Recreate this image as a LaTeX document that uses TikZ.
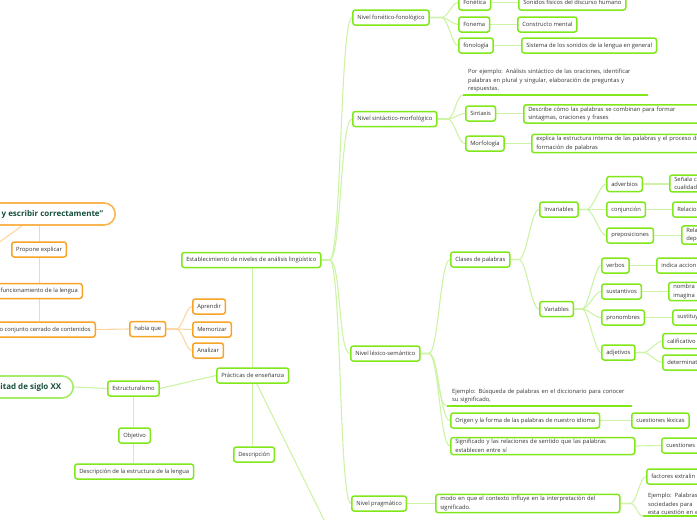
\documentclass[tikz,border=0pt]{standalone}
\usepackage{fontspec}
\setmainfont{Open Sans}
\definecolor{gB}{HTML}{80E81A}
\definecolor{gL}{HTML}{CDF3A6}
\definecolor{gR}{HTML}{A6EC68}
\definecolor{oB}{HTML}{F7A325}
\definecolor{oL}{HTML}{FCD6A2}
\definecolor{oR}{HTML}{F9B552}
\definecolor{txt}{HTML}{333333}
\definecolor{rootT}{HTML}{17503A}
\pgfdeclarelayer{bg}
\pgfsetlayers{bg,main}
\tikzset{
  base/.style={rounded corners=2.5pt, line width=1.5pt, fill=white, font=\fontsize{5.8}{8.5}\selectfont, text=txt, inner xsep=4.5pt, inner ysep=2pt, minimum height=15pt, anchor=west},
  gbox/.style={base, draw=gB},
  obox/.style={base, draw=oB},
  wide/.style={text width=175pt, align=left},
  cut/.style={text width=45pt, align=left},
  rootbox/.style={rounded corners=11pt, line width=1.6pt, fill=white, font=\fontsize{8}{9.5}\selectfont\bfseries, text=rootT, minimum height=22pt, inner xsep=12pt, anchor=east},
  exnode/.style={font=\fontsize{5.8}{8.5}\selectfont, text=txt, inner xsep=5pt, inner ysep=2.5pt, text width=175pt, align=left, anchor=south west},
  gl/.style={draw=gL, line width=1.1pt},
  ol/.style={draw=oL, line width=1.1pt},
  uline/.style={draw=gB, line width=1.4pt},
}
\begin{document}
\begin{tikzpicture}[x=1pt,y=-1pt]
\useasboundingbox (0,0) rectangle (697,520);

% ---------- orange part ----------
\node[rootbox, draw=oR] (root1) at (116,214) {y escribir correctamente”};
\node[obox] (P1) at (11,249.5) {Propone explicar};
\node[obox, anchor=east] (P2) at (83,291) {funcionamiento de la lengua};
\node[obox, anchor=east] (P3) at (96,329.5) {o conjunto cerrado de contenidos};
\node[obox] (habia) at (129,329) {había que};
\node[obox] (apr) at (192,306.5) {Aprendir};
\node[obox] (mem) at (192,329.5) {Memorizar};
\node[obox] (ana) at (192,350.5) {Analizar};
\coordinate (rA) at (23,225);
\coordinate (offA) at (-10,249);

% ---------- green left part ----------
\node[rootbox, draw=gR] (root2) at (74,387) {itad de siglo XX};
\node[gbox] (estr) at (107,388.5) {Estructuralismo};
\node[gbox] (obj) at (118,435.5) {Objetivo};
\node[gbox] (desc1) at (74,471.5) {Descripción de la estructura de la lengua};
\node[gbox] (prac) at (216,375.5) {Prácticas de enseñanza};
\node[gbox] (estab) at (181,260) {Establecimiento de niveles de análisis lingüístico};
\node[gbox] (descr) at (233,454.5) {Descripción};
\coordinate (offB) at (330,532);

% ---------- nivel fonetico ----------
\node[gbox] (nfon) at (352,17.5) {Nivel fonético-fonológico};
\node[gbox] (fonet) at (458,2.5) {Fonética};
\node[gbox] (sfis) at (518,2.5) {Sonidos físicos del discurso humano};
\node[gbox] (fonema) at (458,24.5) {Fonema};
\node[gbox] (cmen) at (517,24.5) {Constructo mental};
\node[gbox] (fonol) at (458,45.5) {fonología};
\node[gbox] (sist) at (521,45.5) {Sistema de los sonidos de la lengua en general};

% ---------- nivel sintactico ----------
\node[gbox] (nsin) at (352,119) {Nivel sintáctico-morfológico};
\node[exnode] (ex1) at (463,95) {Por ejemplo: Análisis sintáctico de las oraciones, identificar\\palabras en plural y singular, elaboración de preguntas y\\respuestas.};
\node[gbox] (sint) at (465,113.5) {Sintaxis};
\node[gbox, wide] (desc2) at (523,114) {Describe cómo las palabras se combinan para formar\\sintagmas, oraciones y frases};
\node[gbox] (morf) at (465,143.5) {Morfología};
\node[gbox, wide, text width=200pt] (expl) at (531,143.5) {explica la estructura interna de las palabras y el proceso de\\formación de palabras};

% ---------- nivel lexico ----------
\node[gbox] (nlex) at (350,353.5) {Nivel léxico-semántico};
\node[gbox] (clas) at (450,259.5) {Clases de palabras};
\node[gbox] (inv) at (539,209.5) {Invariables};
\node[gbox] (var) at (539,309) {Variables};
\node[gbox] (adv) at (606,184) {adverbios};
\node[gbox, cut] (senala) at (669,183.5) {Señala c\\cualidad};
\node[gbox] (conj) at (606,209.5) {conjunción};
\node[gbox, cut] (relac) at (672,209.5) {Relacio};
\node[gbox] (prep) at (606,235.5) {preposiciones};
\node[gbox, cut] (rela) at (681,235) {Rela\\depe};
\node[gbox] (verb) at (601,265.5) {verbos};
\node[gbox, cut] (indica) at (656,265.5) {indica accion};
\node[gbox] (sust) at (601,291.5) {sustantivos};
\node[gbox, cut] (nombra) at (668,291.5) {nombra\\imagina};
\node[gbox] (pron) at (601,317.5) {pronombres};
\node[gbox, cut] (sustit) at (672,317.5) {sustituy};
\node[gbox] (adj) at (601,352.5) {adjetivos};
\node[gbox, cut] (calif) at (662,341) {calificativo};
\node[gbox, cut] (determ) at (662,362.5) {determinat};
\node[exnode] (ex2) at (447,406) {Ejemplo: Búsqueda de palabras en el diccionario para conocer\\su significado,};
\node[gbox] (orig) at (450,420.5) {Origen y la forma de las palabras de nuestro idioma};
\node[gbox] (cuesl) at (631,420.5) {cuestiones léxicas};
\node[gbox, wide] (signif) at (450,446) {Significado y las relaciones de sentido que las palabras\\establecen entre sí};
\node[gbox, cut] (cuess) at (661,445.5) {cuestiones};

% ---------- nivel pragmatico ----------
\node[gbox] (nprag) at (351,503.5) {Nivel pragmático};
\node[gbox, wide] (modo) at (435,503.5) {modo en que el contexto influye en la interpretación del\\significado.};
\node[gbox, cut] (fact) at (646,476.5) {factores extralin};
\node[exnode, text width=60pt, anchor=north west, inner ysep=1pt] (ex3) at (643,492) {Ejemplo: Palabras\\sociedades para\\esta cuestión en e};

\begin{pgfonlayer}{bg}
% orange connectors
\draw[ol] (root1.south -| P1.north) -- (P1.north);
\draw[ol] (rA) -- (offA);
\draw[ol] (P1.south) -- (P1.south |- P2.north);
\draw[ol] (P1.south |- P2.south) -- (P1.south |- P3.north);
\draw[ol] (P3.east) -- (habia.west);
\foreach \c in {apr,mem,ana}
  \draw[ol] (habia.east) -- ++(10,0) .. controls +(6,0) and +(-6,0) .. (\c.west);

% green left connectors
\draw[gl] (root2.east) -- (estr.west);
\draw[gl] (estr.south) -- (estr.south |- obj.north);
\draw[gl] (estr.south |- obj.south) -- (estr.south |- desc1.north);
\draw[gl] (estr.east) -- (prac.west);
\draw[gl] (prac.north) -- (prac.north |- estab.south);
\draw[gl] (prac.south) -- (prac.south |- descr.north);
\draw[gl] ([xshift=4pt]prac.south) -- (offB);

% trunk
\foreach \c in {nfon,nsin,nlex,nprag}
  \draw[gl] (estab.east) -- ++(8,0) .. controls +(12,0) and +(-12,0) .. (\c.west);

% fonetico
\foreach \c in {fonet,fonema,fonol}
  \draw[gl] (nfon.east) -- ++(12,0) .. controls +(6,0) and +(-6,0) .. (\c.west);
\draw[gl] (fonet.east) -- (sfis.west);
\draw[gl] (fonema.east) -- (cmen.west);
\draw[gl] (fonol.east) -- (sist.west);

% sintactico
\draw[gl] (nsin.east) -- ++(10,0) .. controls +(7,0) and +(-7,0) .. (ex1.south west);
\foreach \c in {sint,morf}
  \draw[gl] (nsin.east) -- ++(10,0) .. controls +(7,0) and +(-7,0) .. (\c.west);
\draw[gl] (sint.east) -- (sint.east -| desc2.west);
\draw[gl] (morf.east) -- (expl.west);

% lexico
\draw[gl] (nlex.east) -- ++(8,0) .. controls +(10,0) and +(-10,0) .. (ex2.south west);
\foreach \c in {clas,orig,signif}
  \draw[gl] (nlex.east) -- ++(8,0) .. controls +(10,0) and +(-10,0) .. (\c.west);
\foreach \c in {inv,var}
  \draw[gl] (clas.east) -- ++(8,0) .. controls +(8,0) and +(-8,0) .. (\c.west);
\foreach \c in {adv,conj,prep}
  \draw[gl] (inv.east) -- ++(8,0) .. controls +(6,0) and +(-6,0) .. (\c.west);
\foreach \c in {verb,sust,pron,adj}
  \draw[gl] (var.east) -- ++(8,0) .. controls +(6,0) and +(-6,0) .. (\c.west);
\foreach \c in {calif,determ}
  \draw[gl] (adj.east) -- ++(8,0) .. controls +(5,0) and +(-5,0) .. (\c.west);
\draw[gl] (adv.east) -- (adv.east -| senala.west);
\draw[gl] (conj.east) -- (relac.west);
\draw[gl] (prep.east) -- (prep.east -| rela.west);
\draw[gl] (verb.east) -- (indica.west);
\draw[gl] (sust.east) -- (nombra.west);
\draw[gl] (pron.east) -- (sustit.west);
\draw[gl] (orig.east) -- (cuesl.west);
\draw[gl] (signif.east) -- (cuess.west);

% pragmatico
\draw[gl] (nprag.east) -- (modo.west);
\draw[gl] (modo.east) -- ++(10,0) .. controls +(6,0) and +(-6,0) .. (fact.west);
\draw[gl] (modo.east) -- ++(10,0) .. controls +(6,0) and +(-6,0) .. (ex3.south west);
\end{pgfonlayer}

% underlines of example texts
\draw[uline] (ex1.south west) -- (ex1.south east);
\draw[uline] (ex2.south west) -- (ex2.south east);
\draw[uline] (ex3.south west) -- (ex3.south east);
\end{tikzpicture}
\end{document}
